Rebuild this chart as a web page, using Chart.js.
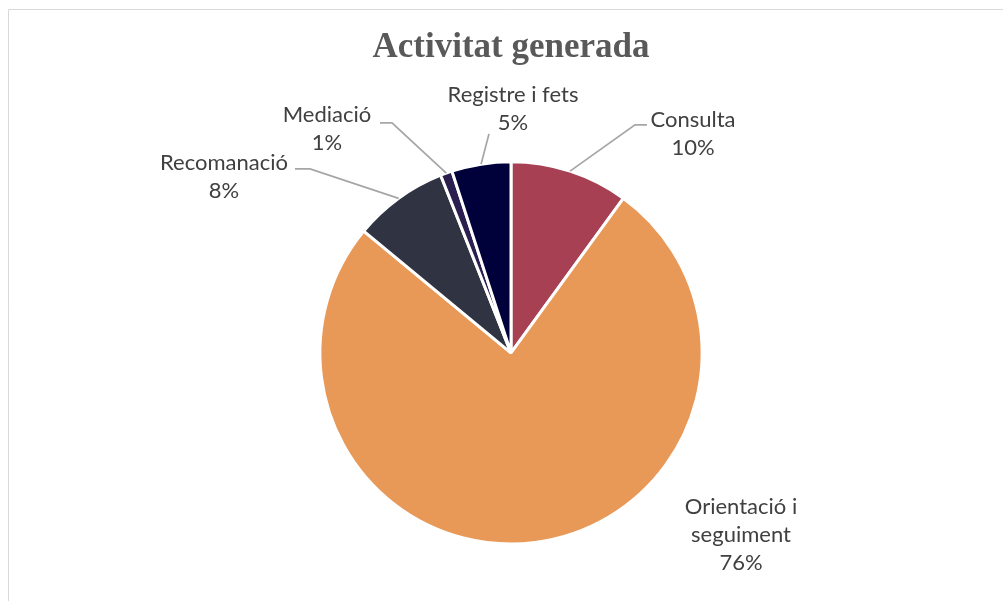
<!DOCTYPE html>
<html>
<head>
<meta charset="utf-8">
<script src="https://cdn.jsdelivr.net/npm/chart.js@4"></script>
<style>
  html, body { margin: 0; padding: 0; background: #ffffff; }
  canvas { display: block; }
</style>
</head>
<body>
<canvas id="chart" width="1003" height="601"></canvas>
<script>
// ---- Data ----
const TITLE = 'Activitat generada';
const categories = [
  ['Consulta'],
  ['Orientació i', 'seguiment'],
  ['Recomanació'],
  ['Mediació'],
  ['Registre i fets']
];
const values = [10, 76, 8, 1, 5];
const colors = ['#A64052', '#E89857', '#2F3342', '#2A1F4E', '#00003A'];

// ---- Label layout (text anchor offsets from pie centre, leader elbow offsets) ----
const labelLayout = [
  { dx: 182, dy: -233, elbow: [124, -228], end: [136, -228] },
  { dx: 230, dy: 154, elbow: null, end: null },
  { dx: -287, dy: -190, elbow: [-201, -184], end: [-216, -184] },
  { dx: -184, dy: -238, elbow: [-119, -230], end: [-131, -230] },
  { dx: 2, dy: -258, elbow: null, end: [-22, -219] }
];

const LABEL_FONT = '22px Lato';
const LINE_H = 28;

const total = values.reduce((a, b) => a + b, 0);

const framePlugin = {
  id: 'frame',
  beforeDraw(chart) {
    const ctx = chart.ctx;
    ctx.save();
    ctx.fillStyle = '#ffffff';
    ctx.fillRect(0, 0, chart.width, chart.height);
    ctx.strokeStyle = '#d9d9d9';
    ctx.lineWidth = 1;
    ctx.beginPath();
    ctx.moveTo(8.5, chart.height + 2);
    ctx.lineTo(8.5, 9.5);
    ctx.lineTo(chart.width + 2, 9.5);
    ctx.stroke();
    ctx.restore();
  }
};

const labelPlugin = {
  id: 'outLabels',
  afterDatasetsDraw(chart) {
    const ctx = chart.ctx;
    const meta = chart.getDatasetMeta(0);
    ctx.save();
    meta.data.forEach((arc, i) => {
      const lay = labelLayout[i];
      const cx = arc.x, cy = arc.y;
      const mid = (arc.startAngle + arc.endAngle) / 2;
      const r = arc.outerRadius;
      const sx = cx + Math.cos(mid) * r;
      const sy = cy + Math.sin(mid) * r;
      if (lay.end) {
        ctx.strokeStyle = '#A6A6A6';
        ctx.lineWidth = 1.75;
        ctx.beginPath();
        ctx.moveTo(sx, sy);
        if (lay.elbow) ctx.lineTo(cx + lay.elbow[0], cy + lay.elbow[1]);
        ctx.lineTo(cx + lay.end[0], cy + lay.end[1]);
        ctx.stroke();
      }
      const lines = categories[i].concat([Math.round(values[i] / total * 100) + '%']);
      ctx.fillStyle = '#404040';
      ctx.font = LABEL_FONT;
      ctx.textAlign = 'center';
      ctx.textBaseline = 'middle';
      lines.forEach((t, k) => {
        ctx.fillText(t, cx + lay.dx, cy + lay.dy + k * LINE_H);
      });
    });
    ctx.restore();
  }
};

new Chart(document.getElementById('chart'), {
  type: 'pie',
  data: {
    labels: categories.map(c => c.join(' ')),
    datasets: [{
      data: values,
      backgroundColor: colors,
      borderColor: '#ffffff',
      borderWidth: 3,
      hoverOffset: 0
    }]
  },
  options: {
    responsive: false,
    animation: false,
    events: [],
    layout: { padding: { left: 19, right: 0, top: 0, bottom: 55.5 } },
    plugins: {
      legend: { display: false },
      tooltip: { enabled: false },
      title: {
        display: true,
        text: TITLE,
        color: '#595959',
        font: { family: 'Liberation Serif', size: 35, weight: 'bold', lineHeight: 1.2 },
        padding: { top: 27, bottom: 91.3 }
      }
    }
  },
  plugins: [framePlugin, labelPlugin]
});
</script>
</body>
</html>
